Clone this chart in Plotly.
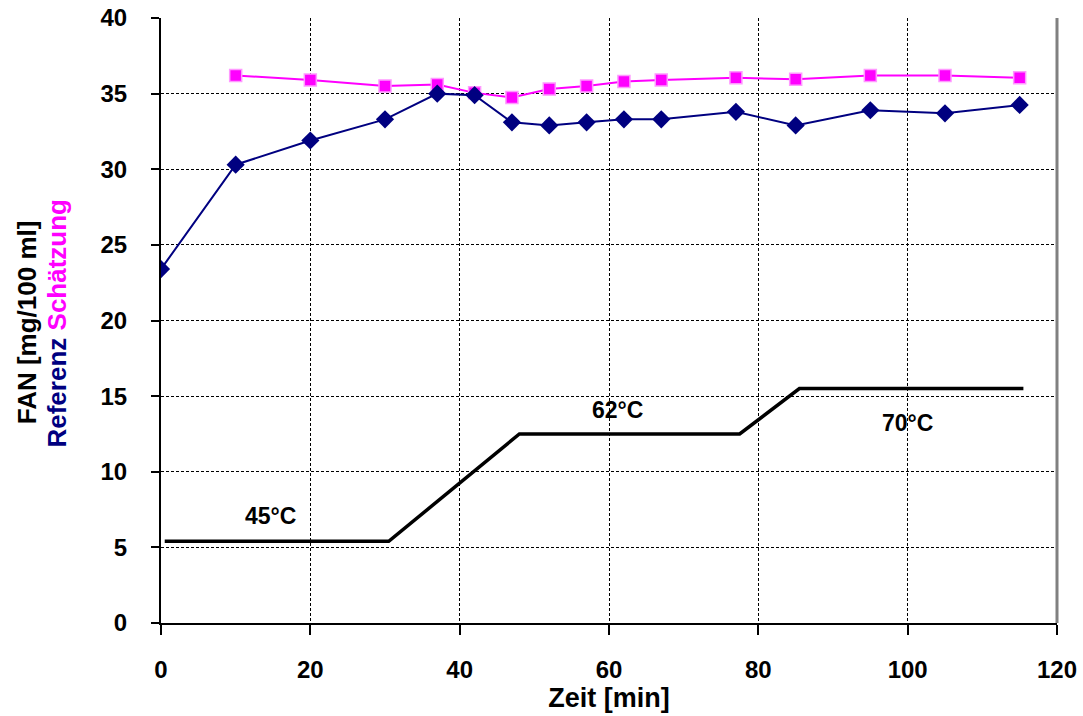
import plotly.graph_objects as go

# Data
zeit = [0, 10, 20, 30, 37, 42, 47, 52, 57, 62, 67, 77, 85, 95, 105, 115]
referenz = [23.4, 30.3, 31.9, 33.3, 35.0, 34.9, 33.1, 32.9, 33.1, 33.3, 33.3, 33.8, 32.9, 33.9, 33.7, 34.25]
zeit_s = [10, 20, 30, 37, 42, 47, 52, 57, 62, 67, 77, 85, 95, 105, 115]
schaetzung = [36.2, 35.9, 35.5, 35.6, 35.05, 34.75, 35.3, 35.5, 35.8, 35.9, 36.05, 35.95, 36.2, 36.2, 36.05]
temp_x = [0.5, 30.5, 48, 77.5, 85.5, 115.5]
temp_y = [5.4, 5.4, 12.5, 12.5, 15.5, 15.5]
temp_labels = ["45°C", "62°C", "70°C"]
temp_label_x = [14.6, 61.2, 100]
temp_label_y = [7.1, 14.1, 13.2]

FONT = "Liberation Sans, Arial, sans-serif"

fig = go.Figure()
fig.add_trace(go.Scatter(x=temp_x, y=temp_y, mode="lines",
                         line=dict(color="black", width=3.5), showlegend=False))
fig.add_trace(go.Scatter(x=zeit_s, y=schaetzung, mode="lines+markers",
                         line=dict(color="#ff00ff", width=2),
                         marker=dict(symbol="square", size=12, color="#ff00ff",
                                     line=dict(color="#ff99ff", width=1.5)),
                         showlegend=False))
fig.add_trace(go.Scatter(x=zeit, y=referenz, mode="lines+markers",
                         line=dict(color="#000080", width=2),
                         marker=dict(symbol="diamond", size=14, color="#000080"),
                         showlegend=False))

for t, xx, yy in zip(temp_labels, temp_label_x, temp_label_y):
    fig.add_annotation(x=xx, y=yy, text=f"<b>{t}</b>", showarrow=False,
                       font=dict(family=FONT, size=23, color="black"))

# y-axis title (two lines, coloured second line)
fig.add_annotation(xref="x domain", yref="y domain", x=(27 - 161) / 896, y=0.497,
                   text="<b>FAN [mg/100 ml]</b>", textangle=-90, showarrow=False,
                   xanchor="center", yanchor="middle",
                   font=dict(family=FONT, size=26, color="black"))
fig.add_annotation(xref="x domain", yref="y domain", x=(57 - 161) / 896, y=0.495,
                   text="<b><span style='color:#000080'>Referenz</span> <span style='color:#ff00ff'>Schätzung</span></b>",
                   textangle=-90, showarrow=False, xanchor="center", yanchor="middle",
                   font=dict(family=FONT, size=26, color="black"))

# right border of plot area
fig.add_shape(type="line", xref="x domain", yref="y domain", x0=1, x1=1, y0=0, y1=1,
              line=dict(color="#808080", width=3))

fig.update_layout(
    width=1083, height=716,
    margin=dict(l=161, r=26, t=18, b=93),
    paper_bgcolor="white", plot_bgcolor="white",
    font=dict(family=FONT, size=22, color="black"),
    xaxis=dict(range=[0, 120], dtick=20, tick0=0, automargin=False,
               showgrid=True, gridcolor="black", gridwidth=1, griddash="3px,2px",
               showline=True, linecolor="black", linewidth=2,
               ticks="outside", ticklen=10, tickwidth=2, tickcolor="black",
               ticklabelstandoff=14,
               tickfont=dict(family=FONT, size=24, color="black", weight="bold"),
               title=dict(text="<b>Zeit [min]</b>", font=dict(family=FONT, size=27),
                          standoff=5),
               zeroline=False),
    yaxis=dict(range=[0, 40], dtick=5, tick0=0, automargin=False,
               showgrid=True, gridcolor="black", gridwidth=1, griddash="3px,2px",
               showline=True, linecolor="black", linewidth=2,
               ticks="outside", ticklen=8, tickwidth=2, tickcolor="black",
               ticklabelstandoff=19,
               tickfont=dict(family=FONT, size=24, color="black", weight="bold"),
               zeroline=False),
)

fig.write_html("out.html")
